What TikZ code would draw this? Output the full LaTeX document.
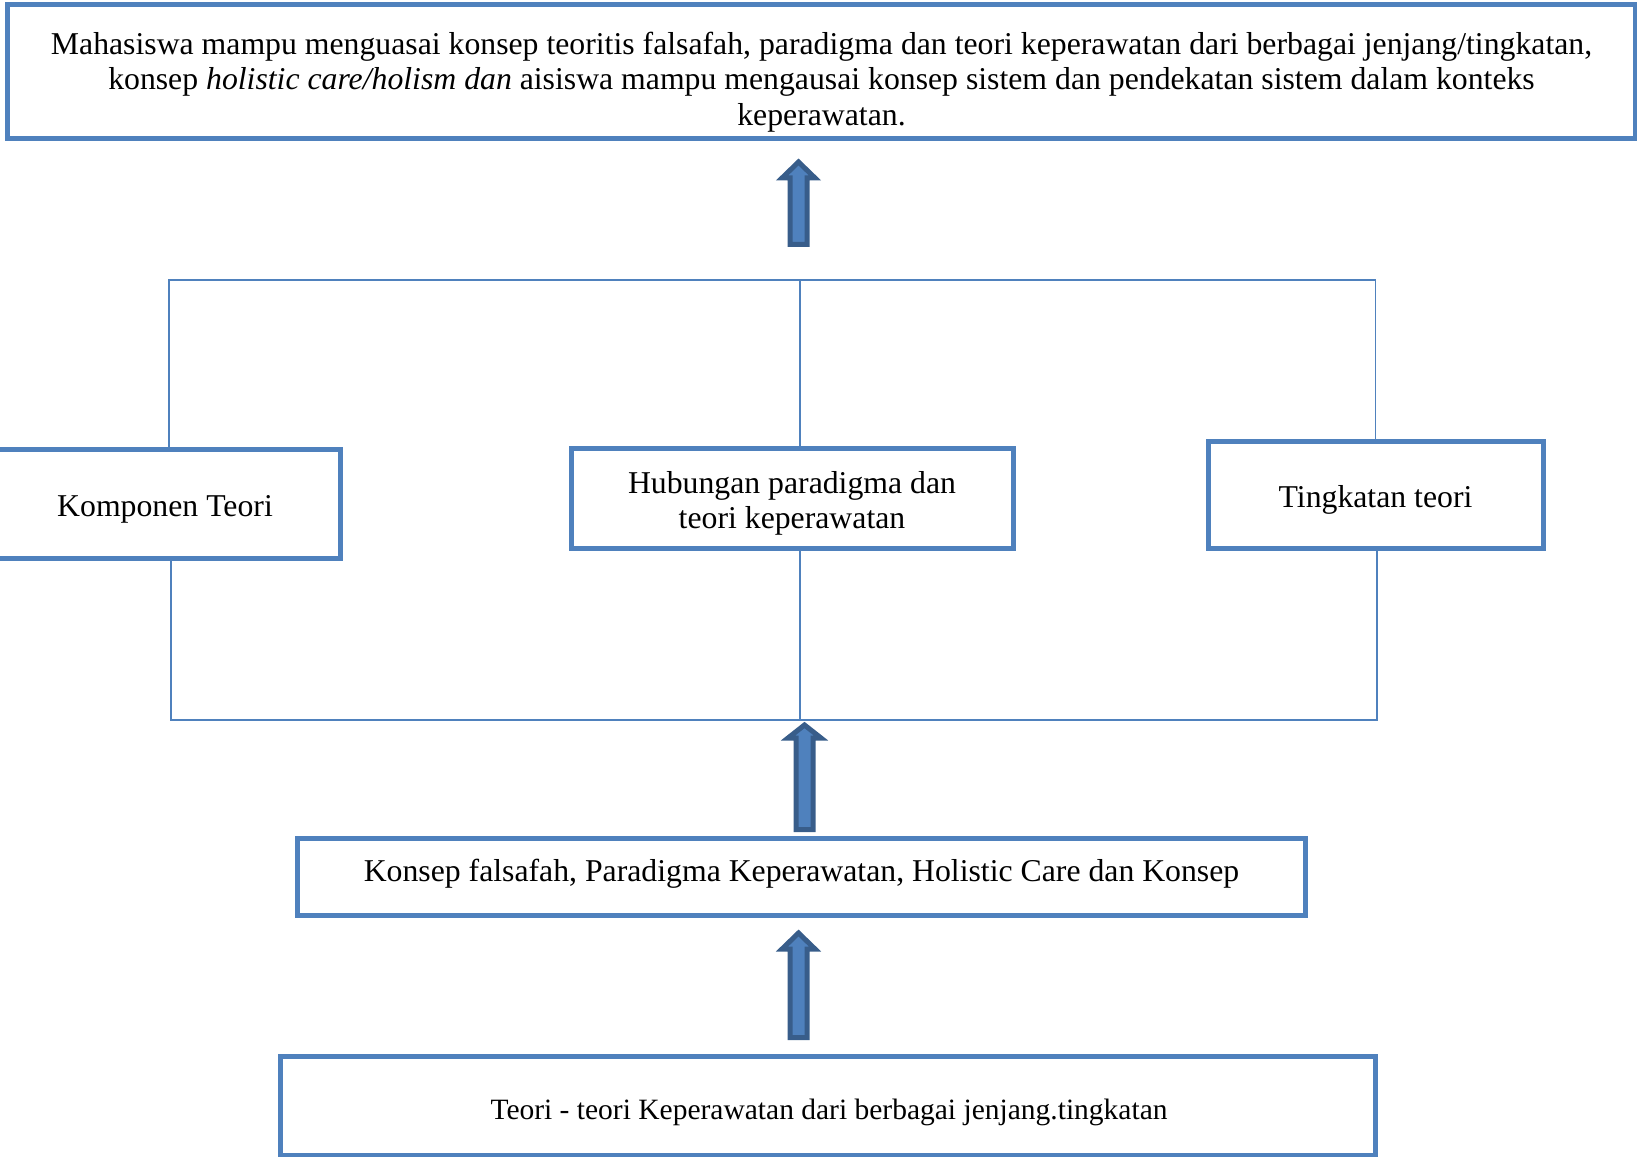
\documentclass[tikz,border=0pt]{standalone}
\usepackage{fontspec}
\setmainfont{Liberation Serif}
\definecolor{boxblue}{HTML}{4F81BD}
\definecolor{arrowdark}{HTML}{385D8A}
\newcommand{\blockup}[4]{% x, tip y, head-base y, bottom y
  \draw[arrowline] (#1,#2) -- (#1+16.5,#3) -- (#1+8.5,#3) -- (#1+8.5,#4)
    -- (#1-8.5,#4) -- (#1-8.5,#3) -- (#1-16.5,#3) -- cycle;}
\begin{document}
\begin{tikzpicture}[x=0.4pt,y=-0.4pt,
  font=\fontsize{12.7}{14.2}\selectfont,
  box/.style={draw=boxblue, line width=2pt, fill=white, inner sep=0pt},
  txt/.style={align=center, inner sep=0pt},
  link/.style={draw=boxblue, line width=0.6pt},
  arrowline/.style={draw=arrowdark, fill=boxblue, line width=2pt, line join=miter}]
\useasboundingbox (0,0) rectangle (1637,1157);

% boxes
\node[box, minimum width=650.8pt, minimum height=53.6pt] (top) at (821.5,72) {};
\node[txt] (toptext) at (821.5,82) {Mahasiswa mampu menguasai konsep teoritis falsafah, paradigma dan teori keperawatan dari berbagai jenjang/tingkatan,\\
konsep \textit{holistic care/holism dan} aisiswa mampu mengausai konsep sistem dan pendekatan sistem dalam konteks\\
keperawatan.};

\node[box, minimum width=140pt, minimum height=43.4pt] (komp) at (165,504) {};
\node[txt] (komptext) at (165,509) {Komponen Teori};
\node[box, minimum width=176.8pt, minimum height=39.6pt] (hub) at (792,498.5) {};
\node[txt] (hubtext) at (792,503.5) {Hubungan paradigma dan\\ teori keperawatan};
\node[box, minimum width=134pt, minimum height=42.4pt] (ting) at (1375.5,495) {};
\node[txt] (tingtext) at (1375.5,500) {Tingkatan teori};

\node[box, minimum width=402.8pt, minimum height=30.8pt] (konsep) at (801.5,876.5) {};
\node[txt] (konseptext) at (801.5,874) {Konsep falsafah, Paradigma Keperawatan, Holistic Care dan Konsep};

\node[box, minimum width=437.6pt, minimum height=39.6pt] (teori) at (828,1105.5) {};
\node[txt, font=\fontsize{11.8}{13.5}\selectfont] (teoritext) at (829,1112) {Teori - teori Keperawatan dari berbagai jenjang.tingkatan};

% bracket connectors
\coordinate (tb) at (800,280);
\coordinate (bb) at (800,720);
\coordinate (kl) at (169,0);
\coordinate (kl2) at (171,0);
\coordinate (tr2) at (1377,0);
\draw[link] (komp.north -| kl) |- (tb) -| (ting.north);
\draw[link] (hub.north -| tb) -- (tb);
\draw[link] (komp.south -| kl2) |- (bb) -| (ting.south -| tr2);
\draw[link] (hub.south -| bb) -- (bb);

% block arrows
\blockup{798.5}{162}{178}{244.5}
\blockup{804.5}{725}{738}{829.5}
\blockup{798.5}{933}{949}{1037.5}
\end{tikzpicture}
\end{document}
